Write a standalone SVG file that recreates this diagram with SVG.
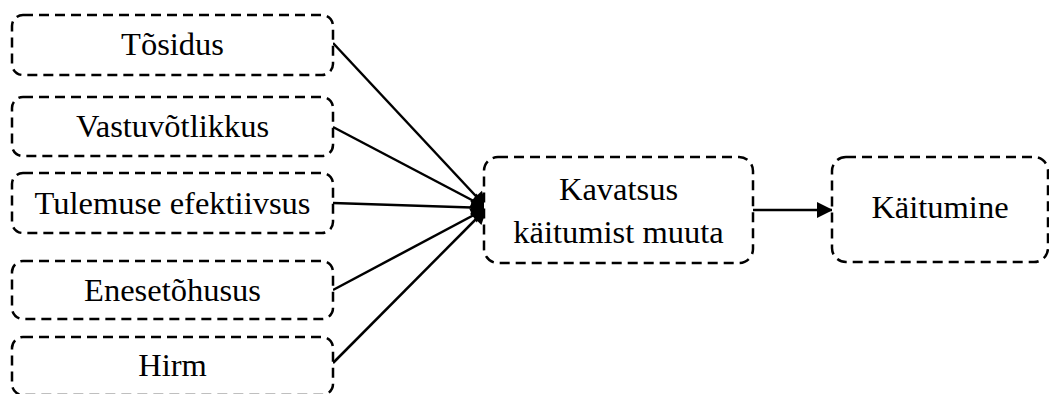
<svg xmlns="http://www.w3.org/2000/svg" width="1049" height="394" viewBox="0 0 1049 394">
  <style>
    .box { fill: #ffffff; stroke: #000000; stroke-width: 2.5; stroke-dasharray: 10 6; }
    .lbl { font-family: "Liberation Serif", "Times New Roman", serif; font-size: 32.5px; fill: #000000; text-anchor: middle; }
    .edge { stroke: #000000; stroke-width: 2.5; fill: none; marker-end: url(#arrow); }
  </style>
  <defs>
    <marker id="arrow" viewBox="0 0 10 10" refX="10" refY="5" markerUnits="userSpaceOnUse" markerWidth="18" markerHeight="16" orient="auto">
      <path d="M0,0 L10,5 L0,10 Z" fill="#000000"/>
    </marker>
  </defs>
  <rect width="1049" height="394" fill="#ffffff"/>

  <g id="connectors">
    <line class="edge" x1="333" y1="43" x2="487" y2="208"/>
    <line class="edge" x1="333" y1="127" x2="487" y2="208"/>
    <line class="edge" x1="333" y1="203" x2="487" y2="208"/>
    <line class="edge" x1="333" y1="290" x2="487" y2="208"/>
    <line class="edge" x1="333" y1="363" x2="487" y2="208"/>
    <line class="edge" x1="753" y1="210" x2="833" y2="210"/>
  </g>

  <g id="tosidus">
    <rect class="box" x="12" y="15" width="321" height="60" rx="11"/>
    <text class="lbl" x="172.5" y="55">Tõsidus</text>
  </g>
  <g id="vastuvotlikkus">
    <rect class="box" x="12" y="97" width="321" height="59" rx="11"/>
    <text class="lbl" x="172.5" y="137">Vastuvõtlikkus</text>
  </g>
  <g id="tulemuse-efektiivsus">
    <rect class="box" x="12" y="173" width="321" height="60" rx="11"/>
    <text class="lbl" x="172.5" y="214">Tulemuse efektiivsus</text>
  </g>
  <g id="enesetohusus">
    <rect class="box" x="12" y="261" width="321" height="58" rx="11"/>
    <text class="lbl" x="172.5" y="301">Enesetõhusus</text>
  </g>
  <g id="hirm">
    <rect class="box" x="12" y="337" width="321" height="58" rx="11"/>
    <text class="lbl" x="172.5" y="376">Hirm</text>
  </g>
  <g id="kavatsus">
    <rect class="box" x="484" y="157" width="269" height="106" rx="14"/>
    <text class="lbl" x="618.5" y="200">Kavatsus</text>
    <text class="lbl" x="618.5" y="243">käitumist muuta</text>
  </g>
  <g id="kaitumine">
    <rect class="box" x="832" y="157" width="216" height="105" rx="14"/>
    <text class="lbl" x="940" y="218">Käitumine</text>
  </g>
</svg>
